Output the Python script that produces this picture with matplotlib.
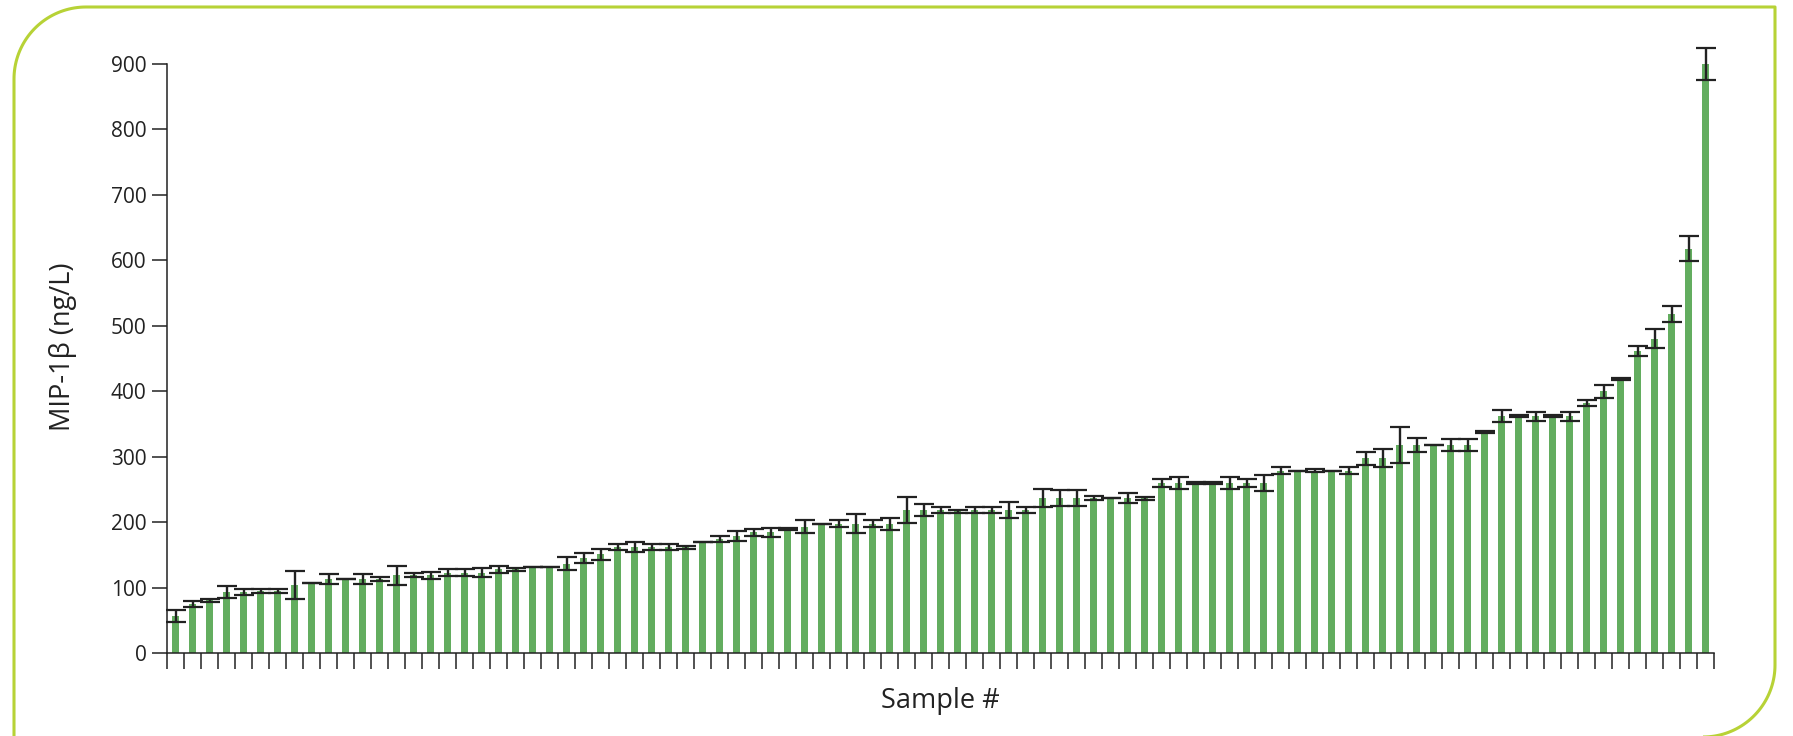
import numpy as np
import matplotlib
matplotlib.use('Agg')
import matplotlib.pyplot as plt
from matplotlib.lines import Line2D

# MIP-1beta per sample (ng/L), sorted ascending, with error bar half-widths
mip_values = [
    57, 75, 81, 94, 94, 95, 95, 104, 108, 113,
    113, 113, 113, 119, 119, 119, 123, 123, 123, 128,
    128, 132, 132, 137, 146, 151, 162, 162, 162, 162,
    162, 170, 175, 179, 185, 185, 190, 193, 198, 198,
    198, 198, 198, 219, 219, 219, 217, 219, 219, 219,
    219, 237, 237, 237, 237, 237, 237, 237, 260, 260,
    260, 260, 260, 260, 260, 279, 279, 279, 279, 279,
    298, 298, 318, 318, 318, 318, 318, 338, 362, 362,
    362, 362, 362, 382, 400, 419, 462, 480, 518, 618,
    900,
]
mip_errors = [
    9.4, 4.7, 2.5, 9.2, 4.8, 2.5, 2.5, 21.5, 0, 7.6,
    0, 7.6, 3, 14, 3, 5, 5, 5, 7, 5,
    2.5, 0, 0, 9.4, 7.8, 7.8, 5, 7.6, 5, 5,
    2, 0, 4.5, 7, 5.3, 7, 2, 10, 0, 5.3,
    14.5, 5.3, 9.3, 19.4, 9.3, 4.8, 2.3, 4.8, 4.8, 11.9,
    4.8, 14, 12, 12, 2.5, 0, 7.3, 2.3, 6.6, 9.6,
    2, 2, 9.6, 6.6, 11.9, 4.8, 0, 2.3, 0, 4.8,
    10, 14, 27, 11.4, 0, 8.7, 8.7, 2, 9.4, 1.7,
    7, 1.7, 7, 4.7, 9.7, 2, 7.4, 14.4, 12.4, 18.8,
    24,
]
y_ticks = [0, 100, 200, 300, 400, 500, 600, 700, 800, 900]

BAR_GREEN = '#63ad5f'
FRAME_GREEN = '#b7d236'
INK = '#222222'

plt.rcParams['font.family'] = ['Open Sans', 'DejaVu Sans']

W, H = 1793, 736
fig = plt.figure(figsize=(W / 100, H / 100), dpi=100)
ax = fig.add_axes([167 / W, 1 - 653.3 / H, (1714 - 167) / W, (653.3 - 63.8) / H])

x = np.arange(len(mip_values))
ax.bar(x, mip_values, width=0.37, color=BAR_GREEN, zorder=2)
eb = ax.errorbar(x, mip_values, yerr=mip_errors, fmt='none', ecolor=INK,
                 elinewidth=1.7, capsize=7.2, capthick=1.6, zorder=3)
for art in list(eb.lines[1]) + list(eb.lines[2]):
    art.set_clip_on(False)

ax.set_xlim(-0.5, len(mip_values) - 0.5)
ax.set_ylim(0, 900)
ax.set_xticks(np.arange(len(mip_values) + 1) - 0.5)
ax.set_xticklabels([])
ax.set_yticks(y_ticks)
ax.set_yticklabels([str(v) for v in y_ticks], fontsize=15, color=INK)

ax.tick_params(axis='x', direction='out', length=11.5, width=1.1, color=INK)
ax.tick_params(axis='y', direction='out', length=10.8, width=1.1, color=INK, pad=4)
for side in ('top', 'right'):
    ax.spines[side].set_visible(False)
for side in ('left', 'bottom'):
    ax.spines[side].set_color(INK)
    ax.spines[side].set_linewidth(1.1)

ax.set_ylabel('MIP-1β (ng/L)', fontsize=19.5, color=INK, va='center')
ax.yaxis.set_label_coords(-0.0672, 0.52)
ax.set_xlabel('Sample #', fontsize=19.5, color=INK, va='center')
ax.xaxis.set_label_coords(0.5, -0.081)

# outer frame: square top-right / bottom-left, rounded top-left / bottom-right
r = 72
left, right, top, bottom = 14, 1775, 7, 737
t = np.linspace(0, np.pi / 2, 40)
px = np.concatenate([[left], left + r - r * np.cos(t), [right, right],
                     right - r + r * np.cos(t)])
py = np.concatenate([[H + 10], top + r - r * np.sin(t), [top, bottom - r],
                     bottom - r + r * np.sin(t)])
fig.add_artist(Line2D(px / 100, (H - py) / 100, transform=fig.dpi_scale_trans,
                      color=FRAME_GREEN, linewidth=2.2, solid_capstyle='butt'))

fig.savefig('out.png', dpi=100)
